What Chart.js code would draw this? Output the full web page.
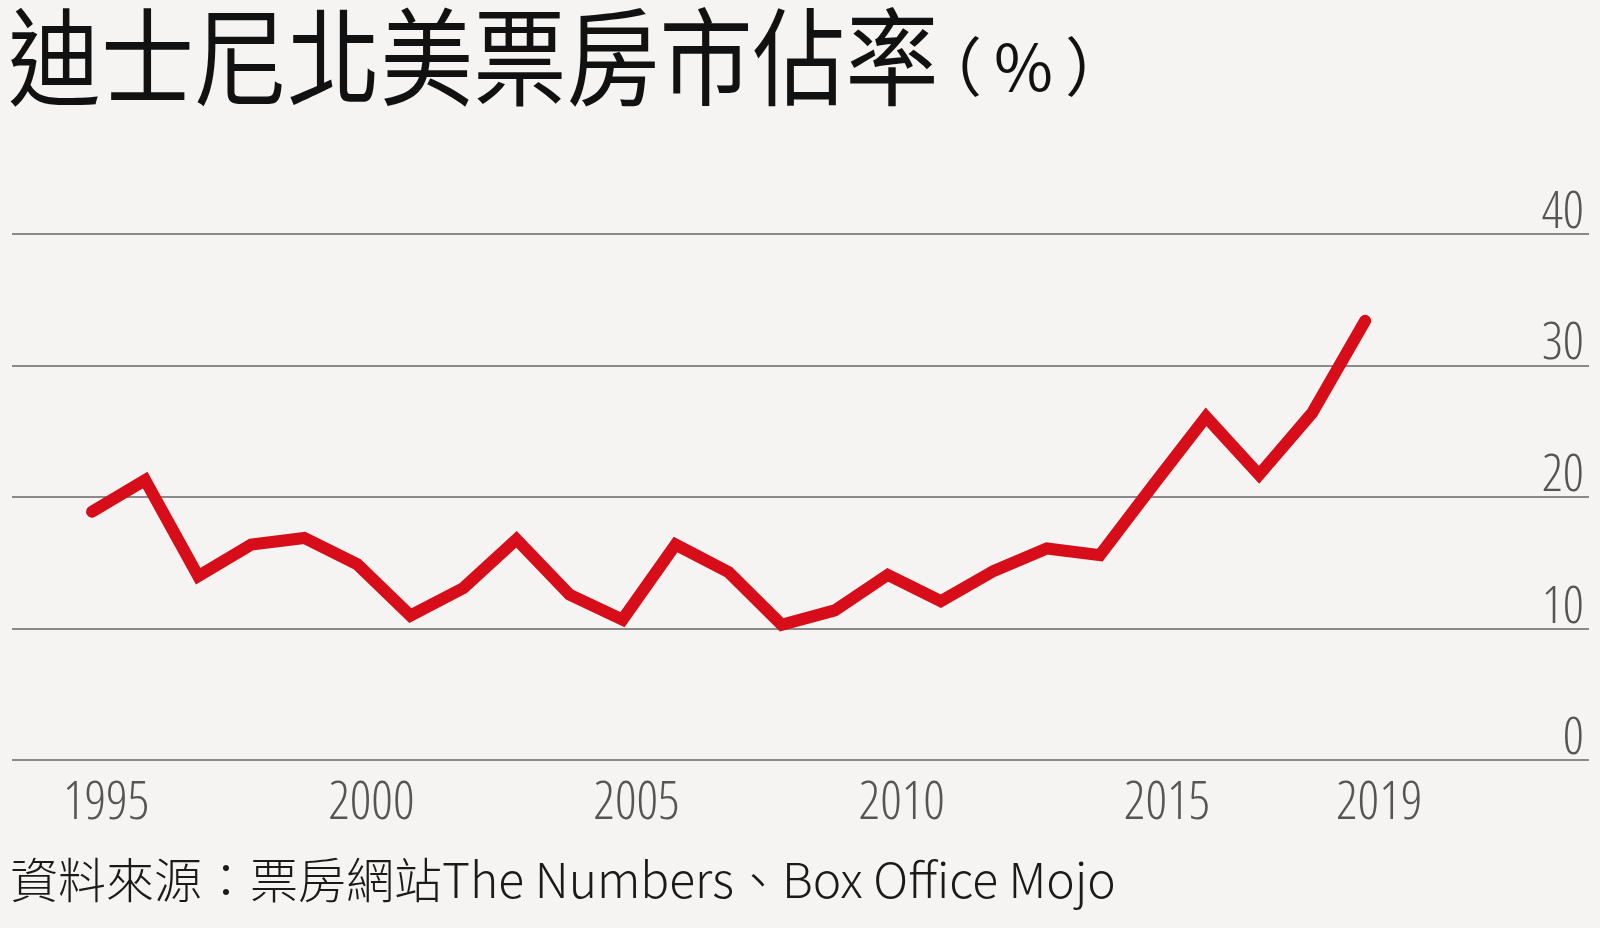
<!DOCTYPE html>
<html>
<head>
<meta charset="utf-8">
<script src="https://cdn.jsdelivr.net/npm/chart.js@4.4.1/dist/chart.umd.min.js"></script>
<style>
  body{margin:0;background:#f5f4f2;}
  #wrap{position:relative;width:1600px;height:928px;overflow:hidden;background:#f5f4f2;}
  #c{position:absolute;left:0;top:0;}
  #title{position:absolute;left:8px;top:-2px;font-family:"Noto Sans CJK TC";font-size:106px;line-height:1;color:#111;white-space:nowrap;transform:scaleX(0.878);transform-origin:0 0;}
  #unit{position:absolute;left:918px;top:31px;font-family:"Noto Sans CJK TC";font-size:64px;line-height:1;letter-spacing:12px;color:#111;white-space:nowrap;}
  #src{position:absolute;left:10px;top:853px;font-family:"Noto Sans CJK TC";font-weight:300;font-size:48px;line-height:1;color:#1a1a1a;white-space:nowrap;}
</style>
</head>
<body>
<div id="wrap">
  <canvas id="c" width="1600" height="928"></canvas>
  <div id="title">迪士尼北美票房市佔率</div>
  <div id="unit">（%）</div>
  <div id="src">資料來源：票房網站The Numbers、Box Office Mojo</div>
</div>
<script>
// Disney share of North American box office (%)
var years=[1995,1996,1997,1998,1999,2000,2001,2002,2003,2004,2005,2006,2007,2008,2009,2010,2011,2012,2013,2014,2015,2016,2017,2018,2019]
var share=[18.9,21.3,14.0,16.4,16.9,14.9,11.0,13.1,16.8,12.6,10.7,16.4,14.3,10.3,11.4,14.1,12.1,14.4,16.1,15.6,20.9,26.1,21.7,26.4,33.4]
var xTicks=[1995,2000,2005,2010,2015,2019]
var yTicks=[0,10,20,30,40]

var points=[]
for(var i=0;i<years.length;i++){
    points.push({x:years[i],y:share[i]})
}

// condensed width goes in through the font shorthand
var tickFont='"Open Sans"'
var tickWeight='350 condensed'

var ctx=document.getElementById('c').getContext('2d')
var chart=new Chart(ctx,{
    type:'line',
    data:{
        datasets:[{
            data:points,
            borderColor:'#d70e1a',
            borderWidth:12,
            borderCapStyle:'round',
            borderJoinStyle:'miter',
            pointRadius:0,
            tension:0,
            clip:false
        }]
    },
    options:{
        responsive:false,
        animation:false,
        layout:{padding:{left:12,right:11,top:234,bottom:80}},
        plugins:{legend:{display:false},tooltip:{enabled:false}},
        scales:{
            x:{
                type:'linear',
                min:1993.49,
                max:2023.22,
                grid:{display:false,drawTicks:false},
                border:{display:false},
                afterBuildTicks:function(s){
                    s.ticks=xTicks.map(function(v){return {value:v}})
                },
                ticks:{
                    autoSkip:false,
                    maxRotation:0,
                    padding:12,
                    labelOffset:14,
                    color:'#555',
                    font:{family:tickFont,size:53,weight:tickWeight},
                    callback:function(v){return String(v)}
                }
            },
            y:{
                position:'right',
                min:0,
                max:40,
                grid:{color:'#8a8a8a',lineWidth:2,drawTicks:false},
                border:{display:false},
                afterBuildTicks:function(s){
                    s.ticks=yTicks.map(function(v){return {value:v}})
                },
                ticks:{
                    mirror:true,
                    padding:-5,
                    labelOffset:-21,
                    color:'#555',
                    font:{family:tickFont,size:52,weight:tickWeight}
                }
            }
        }
    }
})
</script>
</body>
</html>
